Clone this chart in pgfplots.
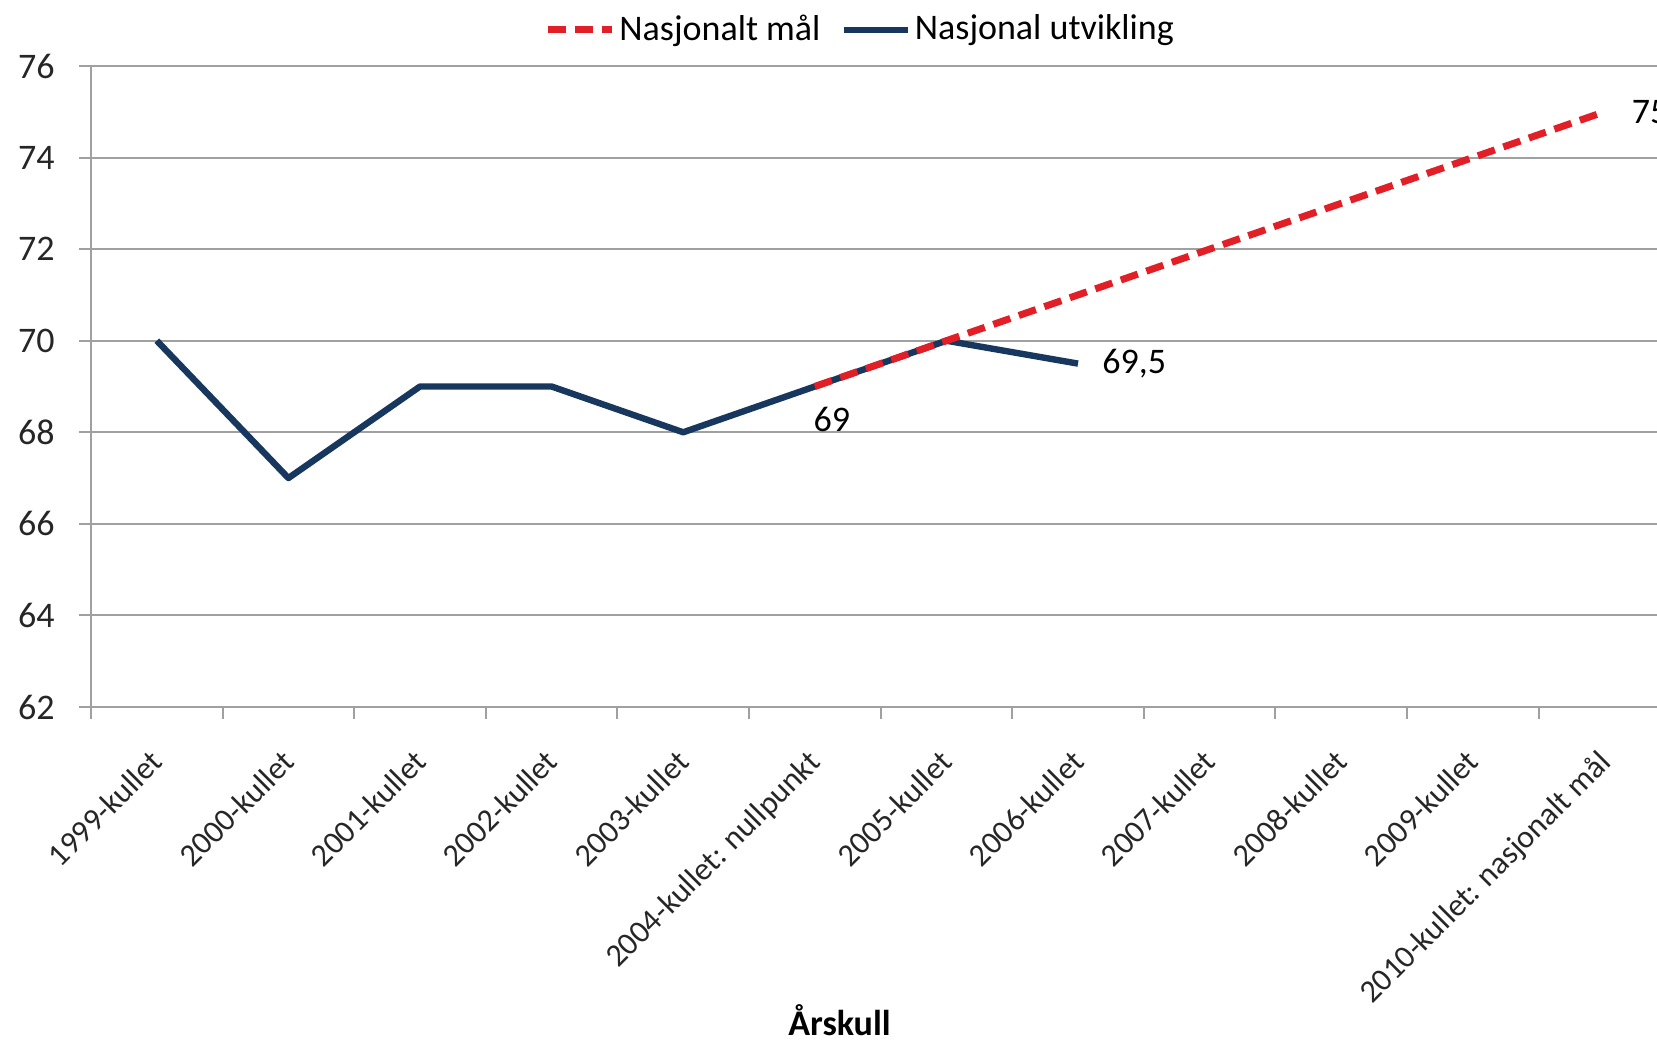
\documentclass[border=0pt]{standalone}
\usepackage{fontspec}
\setmainfont{Carlito}
\usepackage{pgfplots}
\pgfplotsset{compat=1.18}
\definecolor{navy}{RGB}{23,55,94}
\definecolor{goalred}{RGB}{226,30,38}
\definecolor{gridgray}{RGB}{160,160,160}
\begin{document}
\fontsize{18}{21}\selectfont
\begin{tikzpicture}
\begin{axis}[name=ax, scale only axis, width=789.6pt, height=320.5pt,
  clip=false,
  xmin=-0.5, xmax=11.5, ymin=62, ymax=76,
  ytick={62,64,...,76},
  xtick={-0.5,0.5,...,11.5}, xticklabels={},
  extra x ticks={0,1,...,11},
  extra x tick labels={1999-kullet, 2000-kullet, 2001-kullet, 2002-kullet, 2003-kullet, 2004-kullet: nullpunkt, 2005-kullet, 2006-kullet, 2007-kullet, 2008-kullet, 2009-kullet, 2010-kullet: nasjonalt mål},
  extra x tick style={major tick length=0pt, xmajorgrids=false,
    tick label style={xshift=-4pt, yshift=-12pt, rotate=45, anchor=north east, font=\fontsize{16}{19}\selectfont}},
  tick align=outside, major tick length=6pt,
  tick style={gridgray, line width=1pt},
  ymajorgrids=true, xmajorgrids=false,
  major grid style={gridgray, line width=1pt},
  axis x line*=bottom, axis y line*=left,
  axis line style={gridgray, line width=1pt},
  /pgf/number format/assume math mode=true,
  tick label style={font=\fontsize{18}{21}\selectfont, text=black!85},
  yticklabel style={xshift=-6pt},
  xlabel={\textbf{Årskull}},
  xlabel style={at={(0.474,0)}, anchor=base, yshift=-164pt, font=\fontsize{18}{21}\selectfont},
  legend style={at={(0.4877,1)}, anchor=center, yshift=18pt, draw=none, fill=none,
    legend columns=-1, font=\fontsize{18}{21}\selectfont,
    /tikz/every even column/.append style={column sep=8pt}},
  legend image code/.code={\draw[#1] (0pt,0pt) -- (32pt,0pt);},
  reverse legend,
]
\addplot[navy, line width=3.2pt, line join=round] coordinates {(0,70) (1,67) (2,69) (3,69) (4,68) (5,69) (6,70) (7,69.5)};
\addlegendentry{Nasjonal utvikling}
\addplot[goalred, line width=3.5pt, dash pattern=on 9pt off 4.5pt] coordinates {(5,69) (11,75)};
\addlegendentry{Nasjonalt mål}
\node[anchor=center, xshift=8.5pt, yshift=-16.5pt] at (axis cs:5,69) {69};
\node[anchor=west, xshift=6pt] at (axis cs:7,69.5) {69,5};
\node[anchor=west, xshift=7.5pt] at (axis cs:11,75) {75};
\end{axis}
\pgfresetboundingbox
\path[use as bounding box] ([xshift=-45.5pt, yshift=-167.5pt]ax.south west) rectangle ([xshift=783pt, yshift=33pt]ax.north west);
\end{tikzpicture}
\end{document}
